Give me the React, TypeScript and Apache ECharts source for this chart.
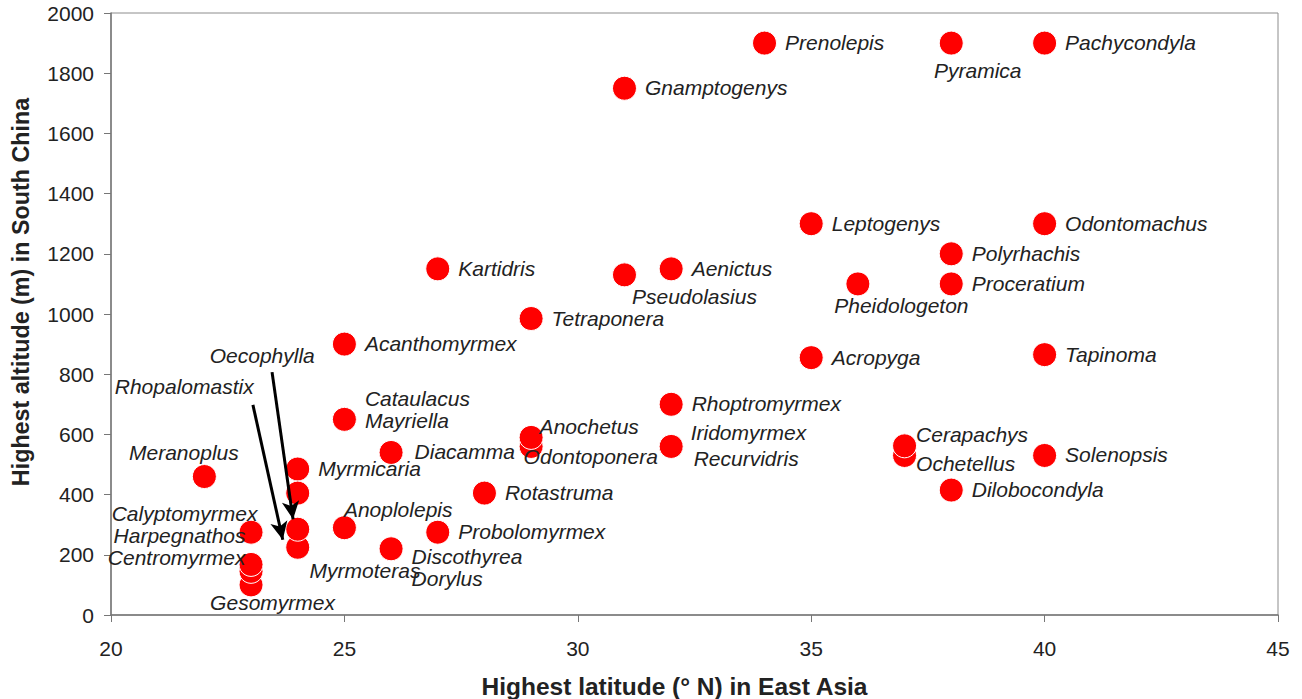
import React, { useEffect, useRef } from "react";
import * as echarts from "echarts";

// ---- data ----
const genera: string[] = [
  "Prenolepis", "Pyramica", "Pachycondyla", "Gnamptogenys", "Leptogenys", "Odontomachus",
  "Polyrhachis", "Proceratium", "Pheidologeton", "Kartidris", "Aenictus", "Pseudolasius",
  "Tetraponera", "Acanthomyrmex", "Acropyga", "Tapinoma", "Rhoptromyrmex", "Cataulacus",
  "Mayriella", "Odontoponera", "Anochetus", "Iridomyrmex", "Recurvidris", "Diacamma",
  "Myrmicaria", "", "Rhopalomastix", "Oecophylla", "Meranoplus", "Calyptomyrmex",
  "Harpegnathos", "Gesomyrmex", "Myrmoteras", "Centromyrmex", "Anoplolepis", "Discothyrea",
  "Dorylus", "Probolomyrmex", "Rotastruma", "Ochetellus", "Cerapachys", "Solenopsis",
  "Dilobocondyla",
];
const latitude: number[] = [
  34, 38, 40, 31, 35, 40,
  38, 38, 36, 27, 32, 31,
  29, 25, 35, 40, 32, 25,
  25, 29, 29, 32, 32, 26,
  24, 24, 24, 24, 22, 23,
  23, 23, 23, 23, 25, 26,
  26, 27, 28, 37, 37, 40,
  38,
];
const altitude: number[] = [
  1900, 1900, 1900, 1750, 1300, 1300,
  1200, 1100, 1100, 1150, 1150, 1130,
  985, 900, 855, 865, 700, 650,
  650, 560, 590, 560, 560, 540,
  485, 405, 225, 285, 460, 275,
  275, 100, 145, 168, 290, 220,
  220, 275, 405, 530, 562, 530,
  415,
];

const xMin = 20, xMax = 45, xStep = 5;
const yMin = 0, yMax = 2000, yStep = 200;

// arrow annotations, in data coordinates
const arrowFrom: [number, number][] = [[23.04, 698], [23.45, 807]];
const arrowTo: [number, number][] = [[23.68, 250], [23.9, 318]];

// ---- label placement (style, kept apart from data) ----
type Place = { dx: number; dy: number; align: "left" | "center" | "right" };
const defaultPlace: Place = { dx: 21, dy: 0, align: "left" };
const places: Record<string, Place> = {
  Pyramica: { dx: 27, dy: 28, align: "center" },
  Pheidologeton: { dx: 44, dy: 22, align: "center" },
  Pseudolasius: { dx: 8, dy: 22, align: "left" },
  Cataulacus: { dx: 21, dy: -20, align: "left" },
  Mayriella: { dx: 21, dy: 2, align: "left" },
  Anochetus: { dx: 9, dy: -10, align: "left" },
  Odontoponera: { dx: -7, dy: 11, align: "left" },
  Iridomyrmex: { dx: 20, dy: -13, align: "left" },
  Recurvidris: { dx: 23, dy: 13, align: "left" },
  Diacamma: { dx: 24, dy: 0, align: "left" },
  Oecophylla: { dx: -35, dy: -173, align: "center" },
  Rhopalomastix: { dx: -113, dy: -160, align: "center" },
  Meranoplus: { dx: -20, dy: -24, align: "center" },
  Calyptomyrmex: { dx: 7, dy: -18, align: "right" },
  Harpegnathos: { dx: -5, dy: 4, align: "right" },
  Centromyrmex: { dx: -5, dy: -6, align: "right" },
  Myrmoteras: { dx: 59, dy: 0, align: "left" },
  Gesomyrmex: { dx: 22, dy: 18, align: "center" },
  Anoplolepis: { dx: 0, dy: -18, align: "left" },
  Discothyrea: { dx: 21, dy: 8, align: "left" },
  Dorylus: { dx: 21, dy: 30, align: "left" },
  Cerapachys: { dx: 12, dy: -11, align: "left" },
  Ochetellus: { dx: 12, dy: 9, align: "left" },
};

const DOT = 24;
const FONT = "'Liberation Sans', Arial, Helvetica, sans-serif";

export default function App() {
  const ref = useRef<HTMLDivElement>(null);
  useEffect(() => {
    document.body.style.margin = "0";
    if (!ref.current) return;
    const chart = echarts.init(ref.current, undefined, { renderer: "svg" });
    const r = DOT / 2;
    const data = genera.map((name, i) => {
      const p = places[name] || defaultPlace;
      return {
        name,
        value: [latitude[i], altitude[i]],
        label: {
          show: name !== "",
          position: [r + p.dx, r + p.dy],
          align: p.align,
          verticalAlign: "middle",
        },
      };
    });
    chart.setOption({
      animation: false,
      backgroundColor: "#ffffff",
      grid: {
        left: 111, right: 24, top: 13, bottom: 84,
        containLabel: false,
        outerBoundsMode: "none",
        show: true, borderColor: "#8c8c8c", borderWidth: 1,
      },
      xAxis: {
        type: "value", min: xMin, max: xMax, interval: xStep,
        name: "Highest latitude (\u00B0 N) in East Asia",
        nameLocation: "middle", nameGap: 59,
        nameTextStyle: { fontFamily: FONT, fontSize: 24.5, fontWeight: "bold", color: "#222", padding: [0, 40, 0, 0], lineHeight: 24 },
        axisLine: { lineStyle: { color: "#777", width: 1.5 } },
        axisTick: { show: true, length: 7, lineStyle: { color: "#777" } },
        axisLabel: { fontFamily: FONT, fontSize: 21, color: "#222", margin: 23, formatter: (v: number) => String(v) },
        splitLine: { show: false },
      },
      yAxis: {
        type: "value", min: yMin, max: yMax, interval: yStep,
        name: "Highest altitude (m) in South China",
        nameLocation: "middle", nameGap: 79,
        nameTextStyle: { fontFamily: FONT, fontSize: 23.3, fontWeight: "bold", color: "#222", padding: [0, 0, 0, 44] },
        axisLine: { show: true, lineStyle: { color: "#777", width: 1.5 } },
        axisTick: { show: true, length: 7, lineStyle: { color: "#777" } },
        axisLabel: { fontFamily: FONT, fontSize: 21, color: "#222", margin: 17, formatter: (v: number) => String(v) },
        splitLine: { show: false },
      },
      series: [
        {
          type: "scatter",
          symbol: "circle",
          symbolSize: DOT,
          itemStyle: { color: "#ff0000", borderColor: "#ffffff", borderWidth: 1, opacity: 1 },
          label: {
            show: true,
            formatter: "{b}",
            fontFamily: FONT,
            fontSize: 21,
            lineHeight: 19,
            fontStyle: "italic",
            color: "#222",
          },
          data,
          markLine: {
            silent: true,
            symbol: ["none", "arrow"],
            symbolSize: [13, 18],
            label: { show: false },
            lineStyle: { color: "#000", width: 3, type: "solid" },
            data: arrowFrom.map((f, i) => [{ coord: f }, { coord: arrowTo[i] }]),
          },
        },
      ],
    });
    return () => chart.dispose();
  }, []);
  return (
    <div
      ref={ref}
      style={{ position: "fixed", left: 0, top: 0, width: 1302, height: 699, overflow: "hidden" }}
    />
  );
}
